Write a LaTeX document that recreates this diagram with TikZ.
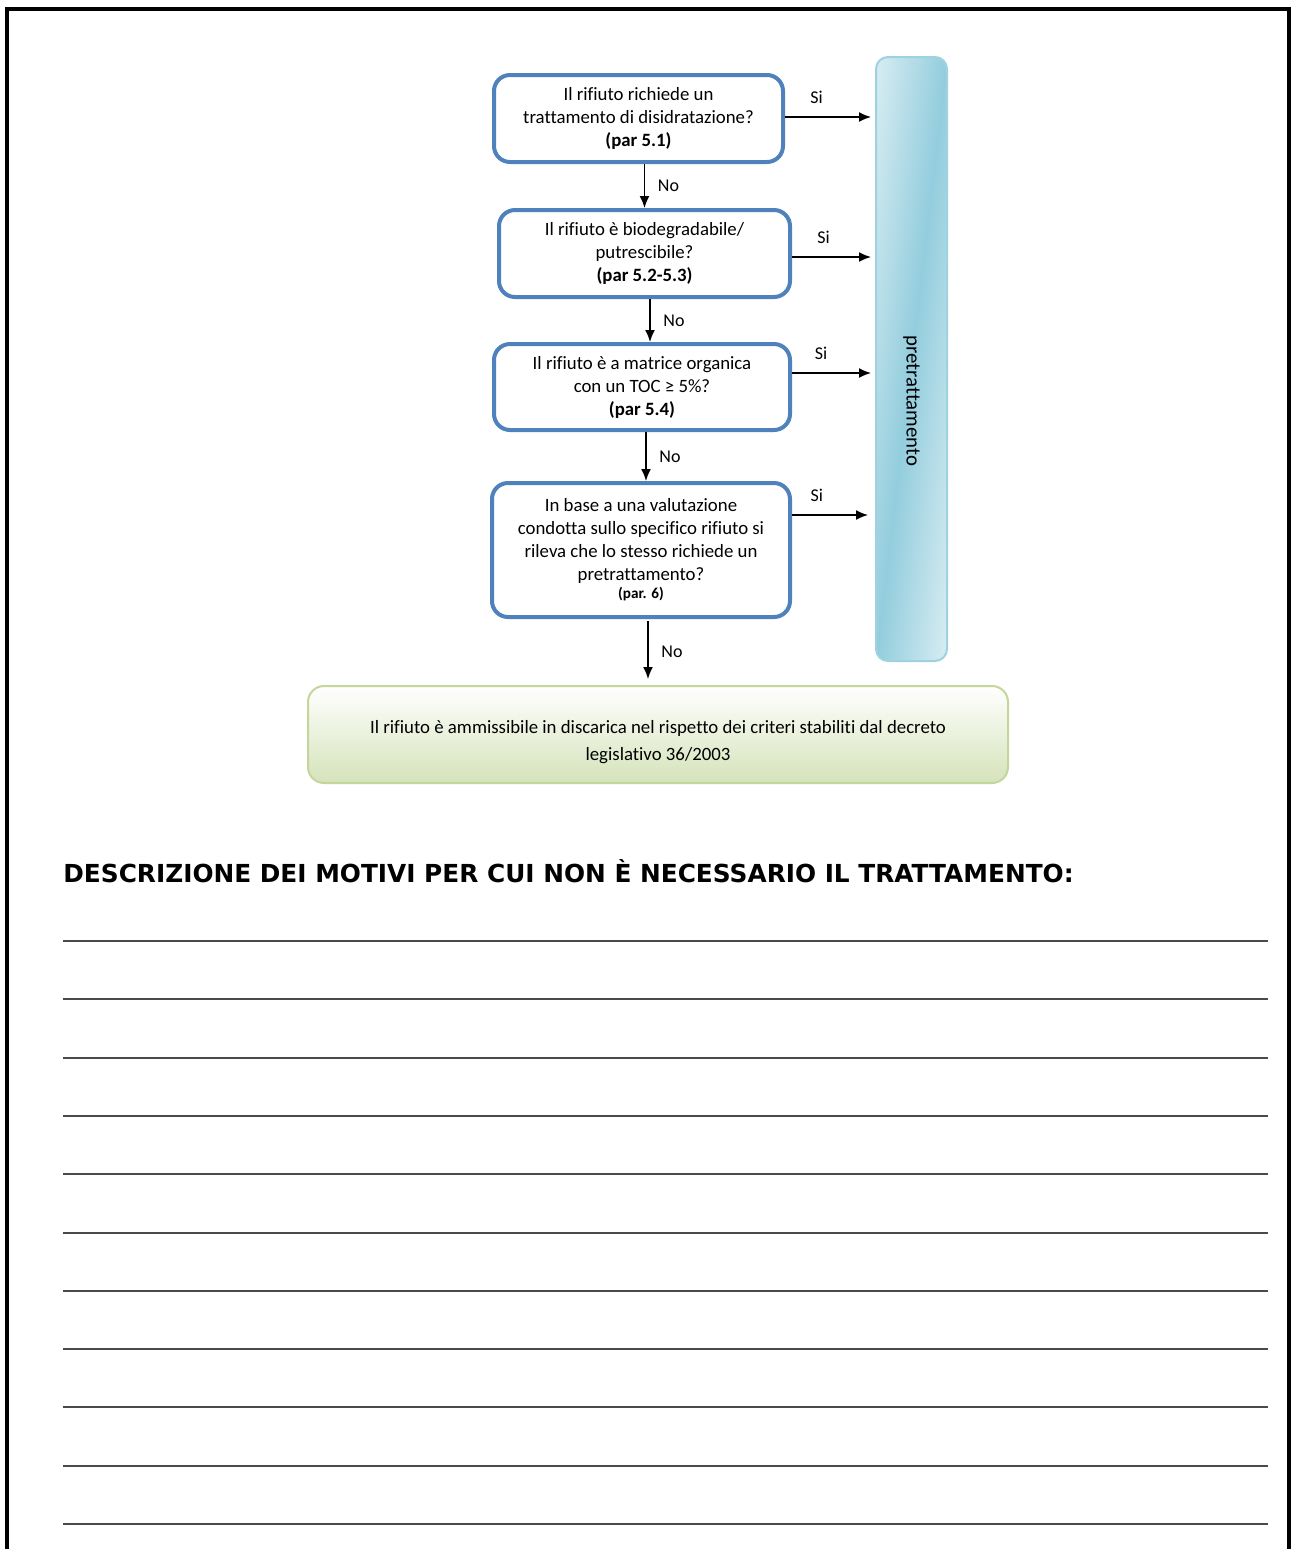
\documentclass[tikz,border=0pt]{standalone}
\usepackage{fontspec}
\setmainfont{Carlito}[Ligatures=NoCommon]
\newfontfamily\headfont{DejaVu Sans}
\usetikzlibrary{arrows.meta,positioning}
\definecolor{boxblue}{HTML}{4F81BD}
\definecolor{bardark}{HTML}{93CDDD}
\definecolor{barlight}{HTML}{DDEFF4}
\definecolor{baredge}{HTML}{9ED2E0}
\definecolor{greenedge}{HTML}{C3D69B}
\definecolor{greenfill}{HTML}{D5E3BA}
\definecolor{rigagrigia}{HTML}{4A4A4A}
\tikzset{
  domanda/.style={draw=boxblue, line width=2pt, rounded corners=8pt, fill=white, align=center, inner sep=2pt, font=\fontsize{9.4}{11.5}\selectfont},
  freccia/.style={-{Latex[length=6pt,width=5pt]}, line width=0.8pt},
  etichetta/.style={font=\fontsize{9}{10}\selectfont},
  riga/.style={rigagrigia, line width=1pt}
}
\begin{document}
\begin{tikzpicture}[x=0.5pt, y=-0.5pt]
\useasboundingbox (0,0) rectangle (1292,1549);
% cornice della pagina
\draw[line width=2pt] (6.5,1549) -- (6.5,8.5) -- (1289,8.5) -- (1289,1549);

% colonna pretrattamento (sfumatura inclinata)
\begin{scope}
\clip[rounded corners=6pt] (876,57) rectangle (947,661);
\fill[barlight] (876,57) rectangle (947,661);
\shade[transform canvas={rotate around={-6.7:(911.5,359)}}, left color=barlight, right color=barlight, middle color=bardark] (836,0) rectangle (987,720);
\end{scope}
\node[draw=baredge, line width=1pt, rounded corners=6pt, minimum width=35.5pt, minimum height=302pt] (pre) at (911.5,359) {};
\node[rotate=-90, font=\fontsize{10.4}{12}\selectfont] (pretesto) at ([yshift=-21pt]pre.center) {pretrattamento};

% domande
\node[domanda, minimum width=144.5pt, minimum height=43.5pt] (q1) at (638.5,118.5)
  {Il rifiuto richiede un\\trattamento di disidratazione?\\\textbf{(par 5.1)}};
\node[domanda, minimum width=145.5pt, minimum height=43.5pt] (q2) at (644.5,253.5)
  {Il rifiuto è biodegradabile/\\putrescibile?\\\textbf{(par 5.2-5.3)}};
\node[domanda, minimum width=148pt, minimum height=43pt] (q3) at (642,387)
  {Il rifiuto è a matrice organica\\con un TOC ≥ 5\%?\\\textbf{(par 5.4)}};
\node[domanda, minimum width=149pt, minimum height=67pt] (q4) at (641,550)
  {In base a una valutazione\\condotta sullo specifico rifiuto si\\rileva che lo stesso richiede un\\pretrattamento?\\[-2.5pt]{\fontsize{7.6}{9}\selectfont\bfseries(par. 6)}};

% esito finale
\node[draw=greenedge, line width=1pt, rounded corners=8pt, top color=white, bottom color=greenfill, minimum width=350pt, minimum height=48.5pt] (esito) at (658,734.5) {};
\node[align=center, font=\fontsize{9.4}{13.5}\selectfont] (esitotesto) at ([yshift=-4pt]esito.center)
  {Il rifiuto è ammissibile in discarica nel rispetto dei criteri stabiliti dal decreto\\legislativo 36/2003};

% frecce No
\draw[freccia] (q2.north |- q1.south) -- node[etichetta, right=3pt] {No} (q2.north);
\draw[freccia] ([xshift=2.75pt]q2.south) -- node[etichetta, right=3pt] {No} ([xshift=2.75pt]q2.south |- q3.north);
\draw[freccia] ([xshift=2pt]q3.south) -- node[etichetta, right=3pt] {No} ([xshift=2pt]q3.south |- q4.north);
\draw[freccia, shorten <=1pt, shorten >=3pt] ([xshift=3.5pt]q4.south) -- node[etichetta, right=3pt] {No} ([xshift=3.5pt]q4.south |- esito.north);

% frecce Si
\draw[freccia, shorten >=2pt] ([yshift=0.75pt]q1.east) -- node[etichetta, pos=0.35, above=3pt] {Si} ([yshift=0.75pt]q1.east -| pre.west);
\draw[freccia, shorten >=2pt] ([yshift=-1.75pt]q2.east) -- node[etichetta, pos=0.38, above=3pt] {Si} ([yshift=-1.75pt]q2.east -| pre.west);
\draw[freccia, shorten >=2pt] ([yshift=7pt]q3.east) -- node[etichetta, pos=0.35, above=3pt] {Si} ([yshift=7pt]q3.east -| pre.west);
\draw[freccia, shorten >=3.5pt] ([yshift=17.5pt]q4.east) -- node[etichetta, pos=0.3, above=3pt] {Si} ([yshift=17.5pt]q4.east -| pre.west);

% descrizione e righe
\node[anchor=base west, inner sep=0pt, font=\headfont\bfseries\fontsize{12.4}{15}\selectfont] (titolo) at (63,882)
  {DESCRIZIONE DEI MOTIVI PER CUI NON È NECESSARIO IL TRATTAMENTO:};
\foreach \i in {0,...,10}
  \draw[riga] (63,{941+58.3*\i}) -- (1268,{941+58.3*\i});
\end{tikzpicture}
\end{document}
